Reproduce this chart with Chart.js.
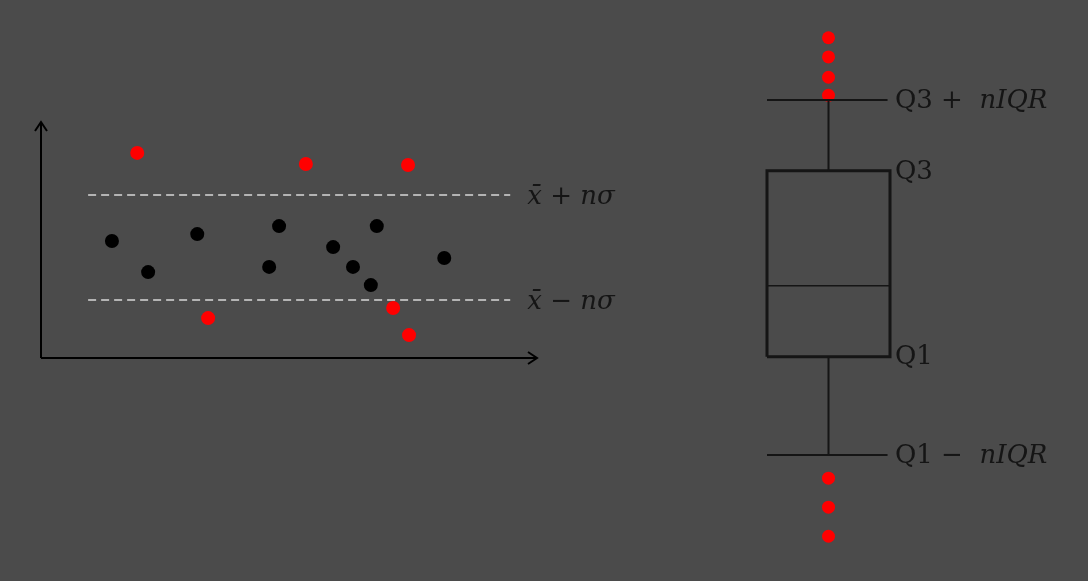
<!DOCTYPE html>
<html>
<head>
<meta charset="utf-8">
<script src="https://cdn.jsdelivr.net/npm/chart.js@4"></script>
<style>
  html, body { margin: 0; padding: 0; background: #4b4b4b; overflow: hidden; }
  #wrap { position: relative; width: 1088px; height: 581px; background: #4b4b4b; }
  canvas { position: absolute; top: 0; }
  #scatterChart { left: 0; }
  #boxChart { left: 640px; }
</style>
</head>
<body>
<div id="wrap">
  <canvas id="scatterChart" width="640" height="581"></canvas>
  <canvas id="boxChart" width="448" height="581"></canvas>
</div>
<script>
// left panel: points inside / outside the mean +- n sigma band
const normalX = [14.3, 21.6, 31.5, 46.0, 48.0, 58.9, 62.9, 66.5, 67.7, 81.3];
const normalY = [49.6, 36.4, 52.5, 38.6, 55.9, 47.0, 38.6, 30.9, 55.9, 42.4];
const outlierX = [19.4, 53.4, 74.0, 33.7, 71.0, 74.2];
const outlierY = [86.9, 82.2, 81.8, 16.9, 21.2, 9.7];
const bandLevels = [69.1, 24.6];
const bandFrom = 9.5;
const bandTo = 94.6;
const bandLabels = [
    [['x\u0304 + n\u03c3', true]],
    [['x\u0304 \u2212 n\u03c3', true]]
];

// right panel: box plot (lower fence, Q1, median, Q3, upper fence)
const boxStats = [21.7, 38.6, 50.8, 70.6, 82.8];
const highOutliers = [93.5, 90.2, 86.7, 83.6];
const lowOutliers = [17.7, 12.7, 7.7];
const fenceLabels = [
    [['Q1 \u2212  ', false], ['nIQR', true]],
    [['Q1', false]],
    null,
    [['Q3', false]],
    [['Q3 +  ', false], ['nIQR', true]]
];

const ink = '#151515';

function toPoints(xs, ys){
    return xs.map((x, i) => ({x: x, y: ys[i]}));
}

// draws text made of roman / italic pieces
function drawPieces(ctx, pieces, x, y, size){
    let cx = x;
    pieces.forEach(p => {
        ctx.font = (p[1] ? 'italic ' : '') + size + 'px "DejaVu Serif", "Liberation Serif", serif';
        ctx.fillText(p[0], cx, y);
        cx += ctx.measureText(p[0]).width;
    });
}

const arrowAxes = {
    id: 'arrowAxes',
    afterDatasetsDraw(chart){
        const ctx = chart.ctx;
        const x = chart.scales.x, y = chart.scales.y;
        const ox = x.getPixelForValue(0), oy = y.getPixelForValue(0);
        const tx = x.getPixelForValue(100), ty = y.getPixelForValue(100);
        ctx.save();
        ctx.strokeStyle = '#000000';
        ctx.lineWidth = 2;
        ctx.beginPath();
        ctx.moveTo(ox, oy); ctx.lineTo(ox, ty);
        ctx.moveTo(ox - 6, ty + 9); ctx.lineTo(ox, ty); ctx.lineTo(ox + 6, ty + 9);
        ctx.moveTo(ox, oy); ctx.lineTo(tx, oy);
        ctx.moveTo(tx - 9, oy - 6); ctx.lineTo(tx, oy); ctx.lineTo(tx - 9, oy + 6);
        ctx.stroke();

        ctx.fillStyle = ink;
        ctx.textBaseline = 'middle';
        bandLevels.forEach((lv, i) => {
            drawPieces(ctx, bandLabels[i], x.getPixelForValue(bandTo) + 17, y.getPixelForValue(lv) + 2, 26);
        });
        ctx.restore();
    }
};

const bandSets = bandLevels.map(lv => ({
    type: 'line',
    data: [{x: bandFrom, y: lv}, {x: bandTo, y: lv}],
    borderColor: '#b4b4b4',
    borderWidth: 2,
    borderDash: [8, 5],
    pointRadius: 0,
    fill: false
}));

new Chart(document.getElementById('scatterChart'), {
    type: 'scatter',
    data: {
        datasets: [
            ...bandSets,
            {
                data: toPoints(normalX, normalY),
                backgroundColor: '#000000',
                borderWidth: 0,
                pointRadius: 7
            },
            {
                data: toPoints(outlierX, outlierY),
                backgroundColor: '#ff0000',
                borderWidth: 0,
                pointRadius: 7
            }
        ]
    },
    options: {
        responsive: false,
        animation: false,
        devicePixelRatio: 1,
        layout: { autoPadding: false, padding: { left: 41, top: 122, right: 103, bottom: 223 } },
        scales: {
            x: { type: 'linear', min: 0, max: 100, display: false },
            y: { type: 'linear', min: 0, max: 100, display: false }
        },
        plugins: { legend: { display: false }, tooltip: { enabled: false } }
    },
    plugins: [arrowAxes]
});

// box plot built from line segments in value space
const lo = boxStats[0], q1 = boxStats[1], med = boxStats[2], q3 = boxStats[3], hi = boxStats[4];
function seg(pts, width){
    return {
        type: 'line',
        data: pts,
        borderColor: ink,
        borderWidth: width,
        pointRadius: 0,
        fill: false,
        clip: false
    };
}

const fenceText = {
    id: 'fenceText',
    afterDatasetsDraw(chart){
        const ctx = chart.ctx;
        const x = chart.scales.x, y = chart.scales.y;
        ctx.save();
        ctx.fillStyle = ink;
        ctx.textBaseline = 'middle';
        boxStats.forEach((v, i) => {
            if (!fenceLabels[i]) return;
            drawPieces(ctx, fenceLabels[i], x.getPixelForValue(1) + 5, y.getPixelForValue(v) + 1, 26);
        });
        ctx.restore();
    }
};

new Chart(document.getElementById('boxChart'), {
    type: 'scatter',
    data: {
        datasets: [
            seg([{x: 0.5, y: q3}, {x: 0.5, y: hi}], 2),
            seg([{x: 0.5, y: q1}, {x: 0.5, y: lo}], 2),
            seg([{x: 0, y: hi}, {x: 0.98, y: hi}], 2),
            seg([{x: 0, y: lo}, {x: 0.98, y: lo}], 2),
            seg([{x: 0, y: med}, {x: 1, y: med}], 1.5),
            seg([{x: 0, y: q1}, {x: 0, y: q3}, {x: 1, y: q3}, {x: 1, y: q1}, {x: 0, y: q1}], 3),
            {
                data: highOutliers.concat(lowOutliers).map(v => ({x: 0.5, y: v})),
                backgroundColor: '#ff0000',
                borderWidth: 0,
                pointRadius: 6.5,
                clip: false
            }
        ]
    },
    options: {
        responsive: false,
        animation: false,
        devicePixelRatio: 1,
        layout: { autoPadding: false, padding: { left: 127, top: 0, right: 198, bottom: 0 } },
        scales: {
            x: { type: 'linear', min: 0, max: 1, display: false },
            y: { type: 'linear', min: 0, max: 100, display: false }
        },
        plugins: { legend: { display: false }, tooltip: { enabled: false } }
    },
    plugins: [fenceText]
});
</script>
</body>
</html>
